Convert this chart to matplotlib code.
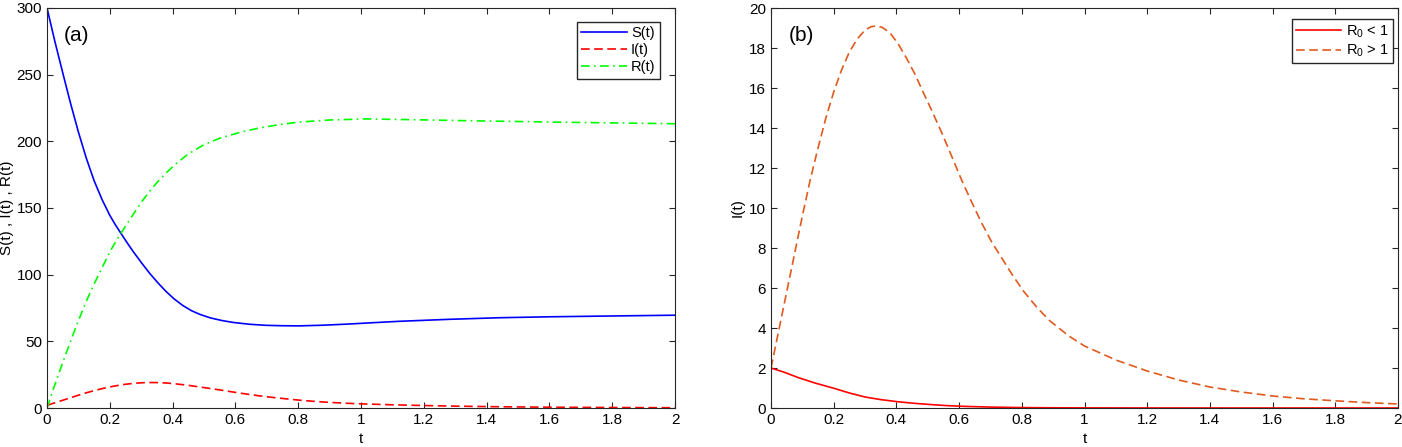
import numpy as np
import matplotlib
matplotlib.use("Agg")
import matplotlib.pyplot as plt

plt.rcParams['font.family'] = ['Liberation Sans', 'DejaVu Sans']
plt.rcParams['mathtext.fontset'] = 'custom'
plt.rcParams['mathtext.rm'] = 'Liberation Sans'
plt.rcParams['mathtext.default'] = 'regular'

# panel (a): S(t) and R(t)
t_s = [0, 0.025, 0.05, 0.075, 0.1, 0.125, 0.15, 0.175, 0.2, 0.218, 0.236, 0.255,
       0.274, 0.3, 0.327, 0.355, 0.38, 0.405, 0.433, 0.46, 0.486, 0.52, 0.555,
       0.592, 0.645, 0.698, 0.75, 0.804, 0.88, 0.963, 1.04, 1.12, 1.28, 1.44,
       1.6, 1.76, 2.0]
S = [300, 275, 251.5, 228.5, 207, 187.5, 170.5, 156.5, 144.5, 137.3, 130.8, 124,
     117.5, 109.2, 101, 93.4, 87.2, 81.8, 76.8, 73, 70.3, 67.6, 65.7,
     64.2, 62.8, 62, 61.7, 61.6, 62.1, 63, 64, 65, 66.5, 67.7,
     68.4, 68.9, 69.6]

t_r = [0, 0.025, 0.05, 0.075, 0.1, 0.125, 0.15, 0.175, 0.2, 0.218, 0.236, 0.26,
       0.28, 0.3, 0.325, 0.35, 0.38, 0.417, 0.45, 0.5, 0.55, 0.618, 0.68, 0.75,
       0.806, 0.9, 1.015, 1.15, 1.33, 1.65, 2.0]
R = [0, 17.5, 34, 50, 65.5, 80, 93, 105, 117, 124.5, 131.2, 140,
     147.2, 154.2, 162, 169, 176.5, 184.5, 190.5, 197.5, 202.3, 207, 210.2, 212.9,
     214.5, 216, 216.8, 216.3, 215.5, 214.3, 213.2]

# I(t): R0 > 1 case (also the I(t) curve of panel a)
t_i = [0, 0.025, 0.05, 0.075, 0.1, 0.125, 0.15, 0.175, 0.2, 0.225, 0.25, 0.275,
       0.3, 0.32, 0.337, 0.355, 0.38, 0.406, 0.432, 0.459, 0.485, 0.512, 0.545,
       0.576, 0.608, 0.64, 0.672, 0.704, 0.736, 0.768, 0.805, 0.85, 0.89, 0.95,
       1.0, 1.1, 1.2, 1.3, 1.4, 1.5, 1.6, 1.7, 1.8, 1.9, 2.0]
I_high = [2, 3.9, 5.8, 7.7, 9.6, 11.4, 13.0, 14.5, 15.8, 16.9, 17.8, 18.45,
          18.9, 19.07, 19.1, 19.03, 18.75, 18.2, 17.5, 16.7, 15.8, 14.9, 13.75,
          12.6, 11.4, 10.3, 9.25, 8.3, 7.5, 6.7, 5.85, 5.0, 4.35, 3.6,
          3.1, 2.4, 1.85, 1.4, 1.05, 0.8, 0.6, 0.46, 0.36, 0.27, 0.2]

# I(t): R0 < 1 case
t_low = [0, 0.04, 0.087, 0.14, 0.204, 0.25, 0.3, 0.35, 0.406, 0.46, 0.512, 0.56,
         0.619, 0.7, 0.8, 0.9, 1.0, 1.2, 1.5, 2.0]
I_low = [2, 1.8, 1.52, 1.25, 0.97, 0.75, 0.55, 0.42, 0.31, 0.23, 0.17, 0.12,
         0.08, 0.045, 0.02, 0.01, 0.005, 0.002, 0, 0]

fig = plt.figure(figsize=(14.02, 4.47), dpi=100)
ax1 = fig.add_axes([47/1402, 1-408/447, 628/1402, 400/447])
ax2 = fig.add_axes([771/1402, 1-408/447, 627/1402, 400/447])

dash = (5.2, 2.7)
dashdot = (5.2, 2.6, 1.0, 2.6)

ax1.plot(t_s, S, color='#0000ff', lw=1.2, label='S(t)')
ax1.plot(t_i, I_high, color='#ff0000', lw=1.2, dashes=dash, label='I(t)')
ax1.plot(t_r, R, color='#00ff00', lw=1.2, dashes=dashdot, label='R(t)')
ax1.set_xlim(0, 2)
ax1.set_ylim(0, 300)
ax1.set_yticks(np.arange(0, 301, 50))
ax1.set_ylabel('S(t) , I(t) , R(t)', fontsize=11)
ax1.yaxis.set_label_coords(-0.052, 0.5)
ax1.text(0.026, 0.955, '(a)', transform=ax1.transAxes, fontsize=15, va='top')
ax1.legend(loc='upper right', bbox_to_anchor=(0.976, 0.965), borderaxespad=0,
           fontsize=10.5, handlelength=3.1, labelspacing=0.2, fancybox=False,
           edgecolor='#262626', framealpha=1, borderpad=0.3, handletextpad=0.3)

ax2.plot(t_low, I_low, color='#ff0000', lw=1.2, label=r'$R_0$ < 1')
ax2.plot(t_i, I_high, color='#e05a1e', lw=1.2, dashes=dash, label=r'$R_0$ > 1')
ax2.set_xlim(0, 2)
ax2.set_ylim(0, 20)
ax2.set_yticks(np.arange(0, 21, 2))
ax2.set_ylabel('I(t)', fontsize=11, labelpad=3)
ax2.text(0.028, 0.955, '(b)', transform=ax2.transAxes, fontsize=15, va='top')
ax2.legend(loc='upper right', bbox_to_anchor=(0.992, 0.9725), borderaxespad=0,
           fontsize=10.5, handlelength=3.1, labelspacing=0.2, fancybox=False,
           edgecolor='#262626', framealpha=1, borderpad=0.3, handletextpad=0.3)

for ax in (ax1, ax2):
    ax.set_xticks(np.arange(0, 2.01, 0.2))
    ax.set_xticklabels(['0', '0.2', '0.4', '0.6', '0.8', '1', '1.2', '1.4', '1.6', '1.8', '2'])
    ax.set_xlabel('t', fontsize=11, labelpad=4)
    ax.tick_params(direction='in', length=4, width=0.8, top=True, right=True,
                   labelsize=11, colors='#262626', labelcolor='black')
    for sp in ax.spines.values():
        sp.set_linewidth(0.8)
        sp.set_color('#262626')

fig.savefig('out.png', dpi=100)
